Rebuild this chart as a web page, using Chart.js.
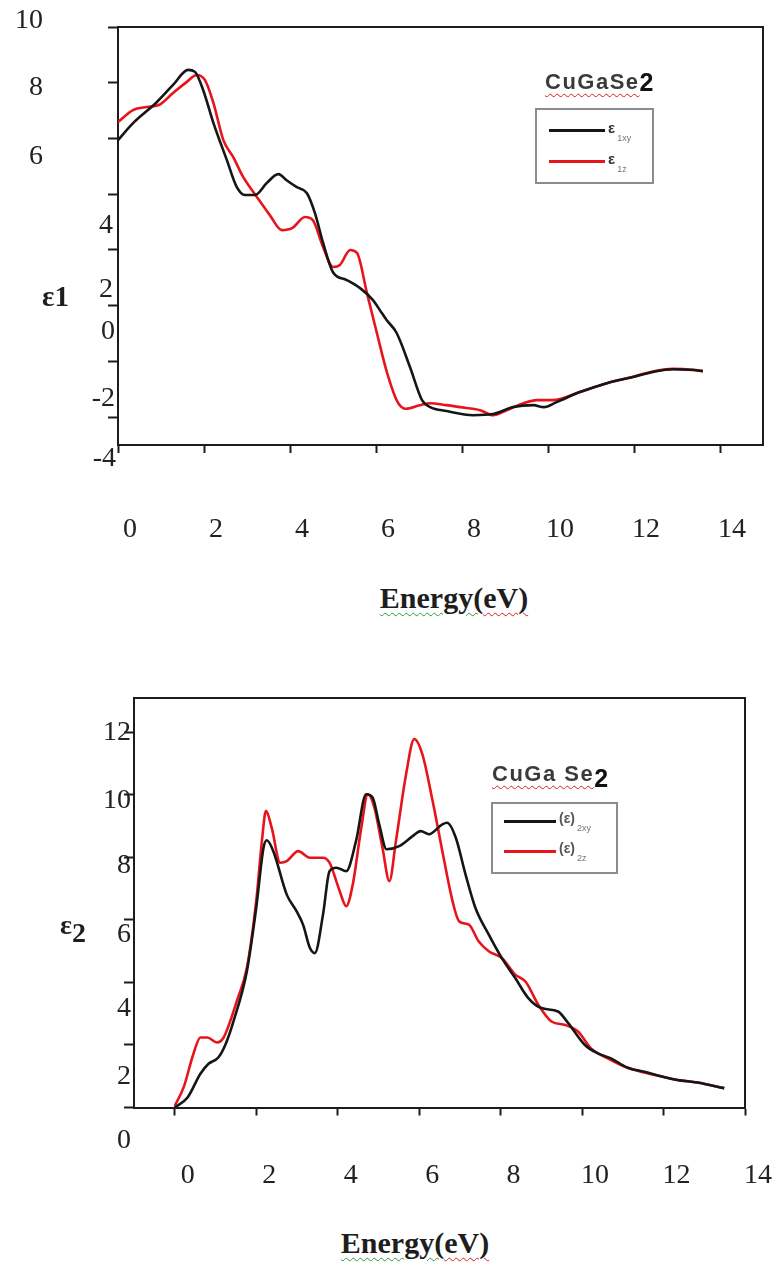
<!DOCTYPE html>
<html>
<head>
<meta charset="utf-8">
<script src="https://cdn.jsdelivr.net/npm/chart.js@4.4.1/dist/chart.umd.min.js"></script>
<style>
  html, body { margin: 0; padding: 0; background: #fff; }
  #page { position: relative; width: 780px; height: 1263px; overflow: hidden; }
  canvas { position: absolute; left: 0; }
  .txt { position: absolute; white-space: nowrap; line-height: 1; }
  .serif { font-family: "Liberation Serif", "Times New Roman", serif; color: #1e1e1e; }
  .sans { font-family: "Liberation Sans", Arial, sans-serif; }
  .axis-title { font-weight: bold; font-size: 30px; transform: translate(-50%, -50%); }
  .wavy-g { text-decoration: underline wavy #2f9a3a; text-decoration-thickness: 1px; text-underline-offset: 4px; }
  .wavy-r { text-decoration: underline wavy #d42020; text-decoration-thickness: 1px; text-underline-offset: 4px; }
  .compound { font-weight: bold; font-size: 22px; color: #3a3a3a; letter-spacing: 1.5px; transform: translateY(-50%); }
  .compound b { color: #111; font-size: 25px; letter-spacing: 0; position: relative; }
  .legend-box { position: absolute; border: 2px solid #8c8c8c; background: #fff; box-sizing: border-box; }
  .legend-line { position: absolute; height: 3px; }
  .legend-label { position: absolute; font-family: "Liberation Sans", Arial, sans-serif; font-weight: bold; color: #333; line-height: 1; white-space: nowrap; transform: translateY(-50%); }
  .legend-label sub { font-weight: normal; font-size: 9px; color: #777; vertical-align: -8px; margin-left: 2px; }
</style>
</head>
<body>
<div id="page">
  <canvas id="eps1" width="780" height="560" style="top:0"></canvas>
  <canvas id="eps2" width="780" height="560" style="top:640px"></canvas>

  <!-- real part -->
  <div class="txt serif" style="left:42px; top:296px; transform:translateY(-50%); font-weight:bold; font-size:29px;">ε1</div>
  <div class="txt serif axis-title" style="left:454px; top:598px;"><span class="wavy-g">Energy(</span><span class="wavy-r">eV)</span></div>
  <div class="txt sans compound" style="left:545px; top:80px;"><span class="wavy-r">CuGaSe</span><b style="top:2px">2</b></div>
  <div class="legend-box" style="left:535px; top:108px; width:119px; height:76px;">
    <div class="legend-line" id="l1a" style="left:12px; top:19px; width:56px;"></div>
    <div class="legend-label" style="left:71px; top:21px; font-size:15px;">ε<sub>1xy</sub></div>
    <div class="legend-line" id="l1b" style="left:12px; top:50px; width:56px;"></div>
    <div class="legend-label" style="left:71px; top:52px; font-size:15px;">ε<sub>1z</sub></div>
  </div>

  <!-- imaginary part -->
  <div class="txt serif" style="left:60px; top:925px; transform:translateY(-50%); font-weight:bold; font-size:28px;">ε<span style="position:relative; top:8px;">2</span></div>
  <div class="txt serif axis-title" style="left:415px; top:1243px;"><span class="wavy-g">Energy(</span><span class="wavy-r">eV)</span></div>
  <div class="txt sans compound" style="left:492px; top:772px;"><span class="wavy-r">CuGa Se</span><b style="top:6px">2</b></div>
  <div class="legend-box" style="left:491px; top:802px; width:127px; height:72px;">
    <div class="legend-line" id="l2a" style="left:11px; top:16px; width:52px;"></div>
    <div class="legend-label" style="left:66px; top:18px; font-size:14px; color:#555;">(ε)<sub>2xy</sub></div>
    <div class="legend-line" id="l2b" style="left:11px; top:46px; width:52px;"></div>
    <div class="legend-label" style="left:66px; top:48px; font-size:14px; color:#555;">(ε)<sub>2z</sub></div>
  </div>
</div>

<script>
// ε1(ω) for CuGaSe2, xy and z polarisation
const e1xyEnergy = [0, 0.35, 0.9, 1.28, 1.63, 1.79, 1.98, 2.22, 2.53, 2.76, 2.95, 3.19, 3.46, 3.73, 3.92, 4.15, 4.39, 4.58, 4.77, 5.0, 5.32, 5.63, 5.93, 6.09, 6.25, 6.48, 6.79, 7.07, 7.26, 7.64, 8.26, 8.72, 9.19, 9.66, 9.9, 10.2, 10.74, 11.37, 11.98, 12.44, 12.9, 13.37, 13.6];
const e1xyValue  = [5.94, 6.55, 7.3, 7.92, 8.46, 8.39, 7.74, 6.55, 5.23, 4.26, 3.97, 3.97, 4.4, 4.72, 4.5, 4.26, 4.04, 3.32, 2.25, 1.2, 0.92, 0.63, 0.2, -0.16, -0.52, -0.98, -2.2, -3.39, -3.64, -3.78, -3.93, -3.89, -3.64, -3.57, -3.64, -3.46, -3.1, -2.78, -2.56, -2.38, -2.28, -2.31, -2.35];
const e1zEnergy  = [0, 0.35, 0.67, 0.95, 1.28, 1.6, 1.83, 2.02, 2.22, 2.45, 2.68, 2.91, 3.23, 3.53, 3.81, 4.05, 4.35, 4.53, 4.77, 5.0, 5.16, 5.4, 5.56, 5.79, 6.02, 6.26, 6.5, 6.7, 7.02, 7.26, 7.64, 7.95, 8.42, 8.72, 9.04, 9.43, 9.74, 10.1, 10.74, 11.37, 11.98, 12.44, 12.9, 13.37, 13.6];
const e1zValue   = [6.59, 7.02, 7.13, 7.2, 7.63, 8.03, 8.28, 8.1, 7.27, 5.94, 5.33, 4.62, 3.9, 3.25, 2.71, 2.78, 3.18, 3.07, 2.1, 1.39, 1.46, 2.0, 1.89, 0.45, -0.98, -2.42, -3.45, -3.7, -3.57, -3.5, -3.57, -3.64, -3.75, -3.93, -3.75, -3.5, -3.39, -3.39, -3.1, -2.78, -2.55, -2.36, -2.27, -2.3, -2.35];

// ε2(ω)
const e2xyEnergy = [0, 0.32, 0.63, 0.83, 1.07, 1.24, 1.44, 1.77, 2.0, 2.18, 2.26, 2.42, 2.75, 2.99, 3.15, 3.32, 3.44, 3.64, 3.8, 3.97, 4.21, 4.45, 4.7, 4.86, 5.02, 5.2, 5.51, 5.84, 6.04, 6.24, 6.57, 6.69, 6.9, 7.14, 7.38, 7.71, 8.03, 8.36, 8.68, 9.0, 9.41, 9.66, 10.07, 10.39, 10.71, 11.12, 11.53, 11.93, 12.34, 12.83, 13.49];
const e2xyValue  = [0, 0.33, 1.08, 1.4, 1.6, 2.0, 2.75, 4.35, 6.38, 8.31, 8.55, 8.2, 6.81, 6.28, 5.85, 5.1, 4.94, 6.17, 7.56, 7.67, 7.56, 8.52, 10.02, 9.91, 9.06, 8.26, 8.36, 8.68, 8.84, 8.74, 9.06, 9.11, 8.63, 7.45, 6.39, 5.53, 4.78, 4.14, 3.5, 3.18, 3.07, 2.7, 2.0, 1.73, 1.57, 1.27, 1.14, 1.0, 0.88, 0.8, 0.62];
const e2zEnergy  = [0, 0.22, 0.46, 0.63, 0.8, 1.04, 1.2, 1.37, 1.53, 1.77, 2.0, 2.14, 2.24, 2.38, 2.59, 2.75, 3.03, 3.32, 3.64, 3.8, 4.05, 4.21, 4.37, 4.58, 4.74, 4.9, 5.1, 5.27, 5.43, 5.68, 5.88, 6.08, 6.33, 6.57, 6.82, 6.98, 7.22, 7.46, 7.71, 8.03, 8.36, 8.61, 8.93, 9.25, 9.59, 9.9, 10.22, 10.71, 11.12, 11.53, 11.93, 12.34, 12.83, 13.49];
const e2zValue   = [0.05, 0.65, 1.72, 2.24, 2.24, 2.08, 2.24, 2.79, 3.43, 4.46, 6.6, 8.52, 9.49, 8.95, 7.83, 7.88, 8.2, 7.99, 7.99, 7.83, 6.92, 6.44, 7.13, 8.95, 10.02, 9.6, 8.31, 7.24, 8.52, 10.66, 11.79, 11.3, 9.81, 8.2, 6.6, 5.96, 5.85, 5.32, 5.0, 4.78, 4.25, 4.03, 3.28, 2.75, 2.64, 2.43, 1.89, 1.52, 1.27, 1.12, 1.0, 0.88, 0.8, 0.62];

// axis ticks
const energyTicks = [0, 2, 4, 6, 8, 10, 12, 14];
const e1Ticks = [-4, -2, 0, 2, 4, 6, 8, 10];
const e2Ticks = [0, 2, 4, 6, 8, 10, 12];

const BLACK = '#161616';
const RED = '#e8141c';
const AXIS = '#1c1c1c';

// the tick numbers were typed in by hand next to the axes, so each one sits a bit off its tick
const e1LabelSpots = [[116, 42], [115, 37], [115, 26], [113, 40], [113, 31], [43, 18], [43, 5], [43, -6]];
const e2LabelSpots = [[131, 33], [131, 32], [131, 26], [131, 15], [131, 8], [131, 6], [131, 0]];

const zip = (xs, ys) => xs.map((x, i) => ({ x: x, y: ys[i] }));

const typedTicks = {
    id: 'typedTicks',
    afterDraw(chart, args, opts) {
        const { ctx, chartArea: a, scales } = chart;
        ctx.save();
        // closing frame on top and right
        ctx.strokeStyle = AXIS;
        ctx.lineWidth = 2;
        ctx.beginPath();
        ctx.moveTo(a.left, a.top);
        ctx.lineTo(a.right, a.top);
        ctx.lineTo(a.right, a.bottom);
        ctx.stroke();

        ctx.fillStyle = '#222';
        ctx.font = '28px "Liberation Serif", "Times New Roman", serif';
        ctx.textBaseline = 'middle';
        ctx.textAlign = 'center';
        scales.x.ticks.forEach(t => {
            ctx.fillText(String(t.value), scales.x.getPixelForValue(t.value) + opts.xShift, a.bottom + opts.xDrop);
        });
        ctx.textAlign = 'right';
        scales.y.ticks.forEach((t, i) => {
            const spot = opts.ySpots[i];
            ctx.fillText(String(t.value), spot[0], scales.y.getPixelForValue(t.value) + spot[1]);
        });
        ctx.restore();
    }
};

function axisOptions(min, max, ticks, tickLength) {
    return {
        type: 'linear',
        min: min,
        max: max,
        afterBuildTicks: scale => { scale.ticks = ticks.map(v => ({ value: v })); },
        ticks: { display: false },
        grid: { display: true, drawOnChartArea: false, drawTicks: true, tickLength: tickLength, tickWidth: 2, tickColor: AXIS },
        border: { display: true, width: 2, color: AXIS }
    };
}

function drawPanel(id, black, red, xr, yr, yTicks, padding, labelOpts) {
    const ctx = document.getElementById(id).getContext('2d');
    return new Chart(ctx, {
        type: 'line',
        data: {
            datasets: [
                { data: black, borderColor: BLACK, borderWidth: 2.6, pointRadius: 0, cubicInterpolationMode: 'monotone', fill: false },
                { data: red, borderColor: RED, borderWidth: 2.6, pointRadius: 0, cubicInterpolationMode: 'monotone', fill: false }
            ]
        },
        options: {
            responsive: false,
            animation: false,
            events: [],
            layout: { padding: padding, autoPadding: false },
            plugins: { legend: { display: false }, tooltip: { enabled: false }, typedTicks: labelOpts },
            scales: {
                x: axisOptions(xr[0], xr[1], energyTicks, 8),
                y: axisOptions(yr[0], yr[1], yTicks, 10)
            }
        },
        plugins: [typedTicks]
    });
}

drawPanel('eps1', zip(e1xyEnergy, e1xyValue), zip(e1zEnergy, e1zValue),
    [0, 15], [-5, 10], e1Ticks,
    { left: 108, top: 27, right: 17, bottom: 107 },
    { xShift: 12, xDrop: 85, ySpots: e1LabelSpots });

drawPanel('eps2', zip(e2xyEnergy, e2xyValue), zip(e2zEnergy, e2zValue),
    [-1, 14], [0, 13.1], e2Ticks,
    { left: 124, top: 58, right: 35, bottom: 84.5 },
    { xShift: 13, xDrop: 68, ySpots: e2LabelSpots });

document.getElementById('l1a').style.background = BLACK;
document.getElementById('l1b').style.background = RED;
document.getElementById('l2a').style.background = BLACK;
document.getElementById('l2b').style.background = RED;
</script>
</body>
</html>
